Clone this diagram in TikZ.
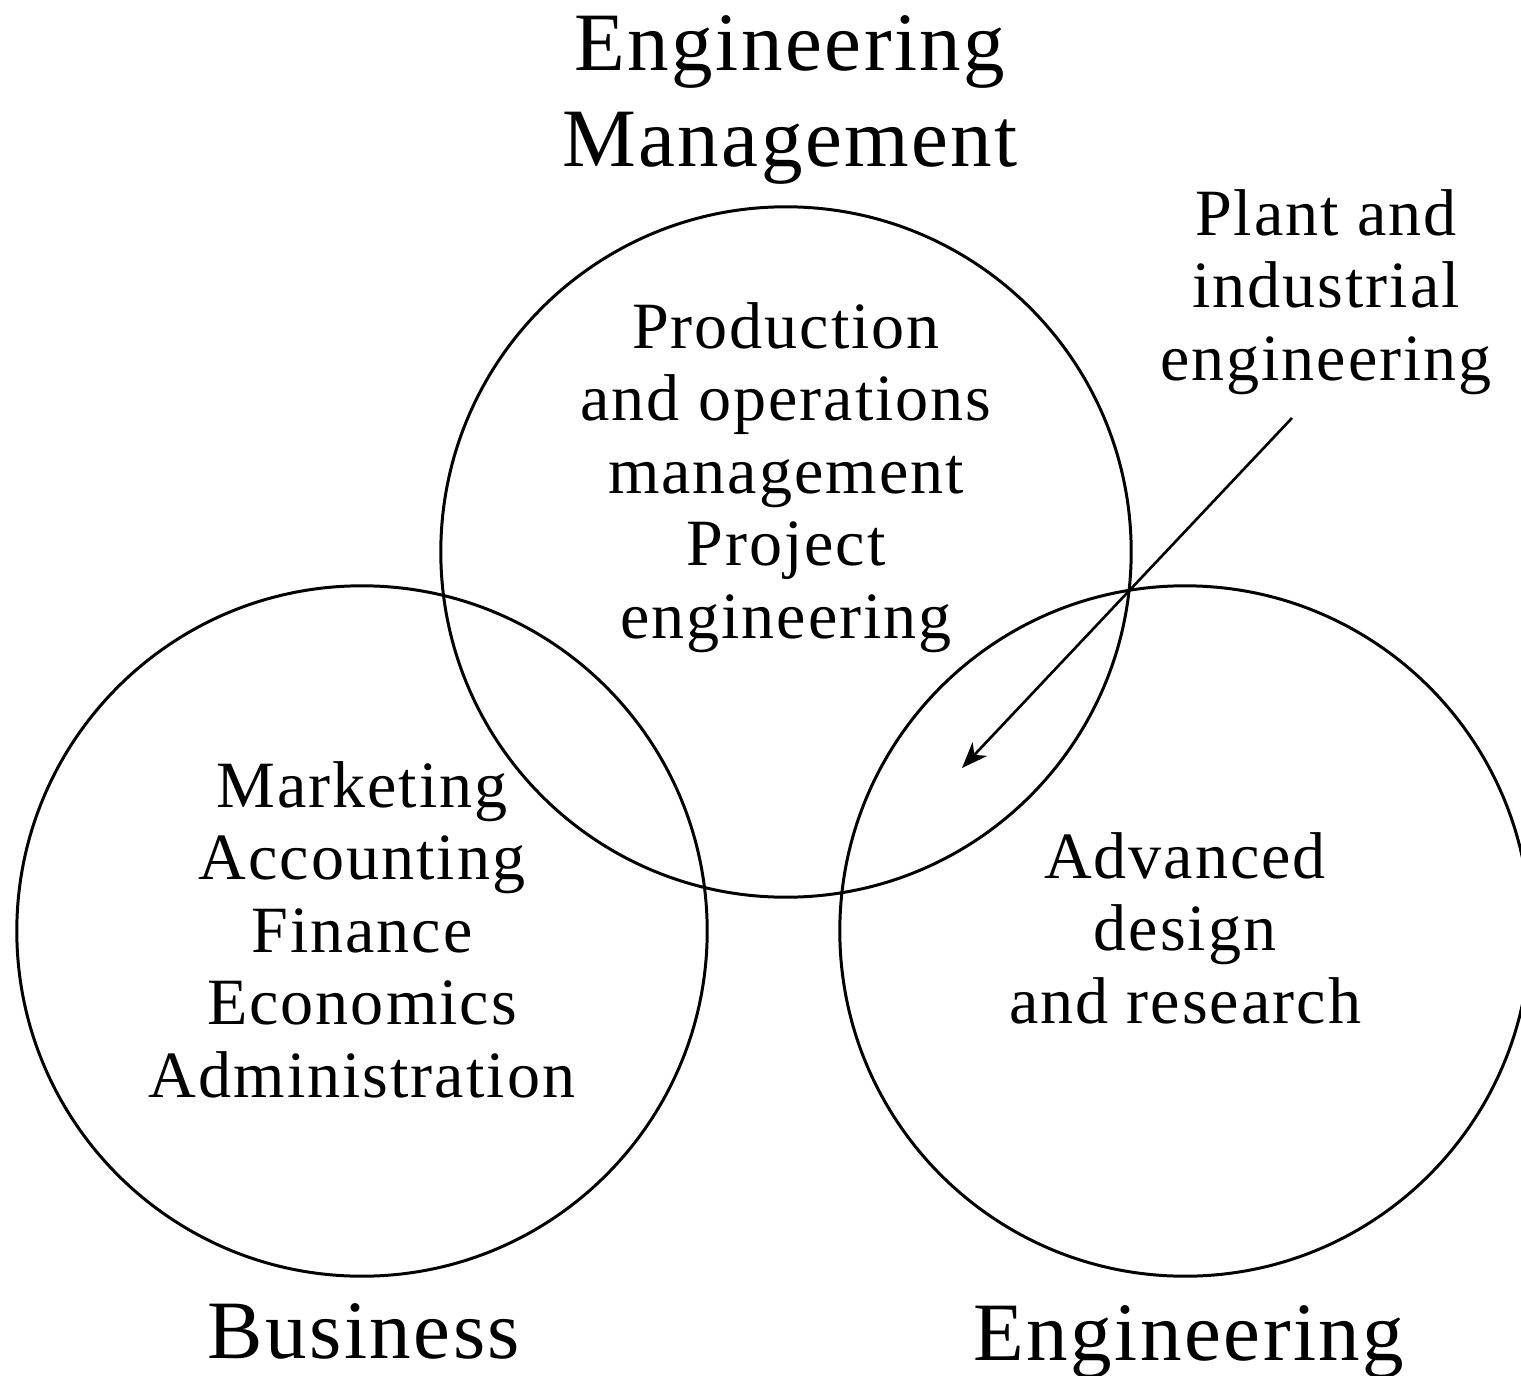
\documentclass[tikz,border=0pt]{standalone}
\usepackage{fontspec}
\setmainfont{Liberation Serif}[LetterSpace=3]
\usetikzlibrary{arrows.meta}

\tikzset{
  area/.style={draw, circle, line width=0.85pt, minimum size=6.9cm, inner sep=0pt},
  field/.style={align=center, inner sep=0pt, anchor=base,
    font=\fontsize{18.8}{20.6}\selectfont},
  heading/.style={align=center, inner sep=0pt, anchor=base,
    font=\fontsize{23.6}{27.5}\selectfont},
}

\begin{document}
\begin{tikzpicture}[x=0.01cm, y=-0.01cm]
  \useasboundingbox (0,0) rectangle (1521,1376);
  % the three circles
  \node[area] (mgmt) at (786,552) {};
  \node[area] (bus) at (362,931) {};
  \node[area] (eng) at (1185,931) {};
  % titles (base = last line)
  \node[heading] (mgmtlabel) at (790,167) {Engineering\\Management};
  \node[heading] (buslabel) at (364,1358) {Business};
  \node[heading] (englabel) at (1189,1360) {Engineering};
  % fields inside the circles
  \node[field] (prod) at (786,638)
    {Production\\and operations\\management\\Project\\engineering};
  \node[field] (market) at (362,1097)
    {Marketing\\Accounting\\Finance\\Economics\\Administration};
  \node[field] (adv) at (1185,1023) {Advanced\\design\\and research};
  \node[field] (plant) at (1326,380) {Plant and\\industrial\\engineering};
  % pointer to the overlap
  \coordinate (from) at (1292,418);
  \coordinate (overlap) at (962,768);
  \draw[line width=0.75pt, -{Stealth[length=0.26cm, width=0.2cm, inset=0.08cm]}]
    (from) -- (overlap);
\end{tikzpicture}
\end{document}
